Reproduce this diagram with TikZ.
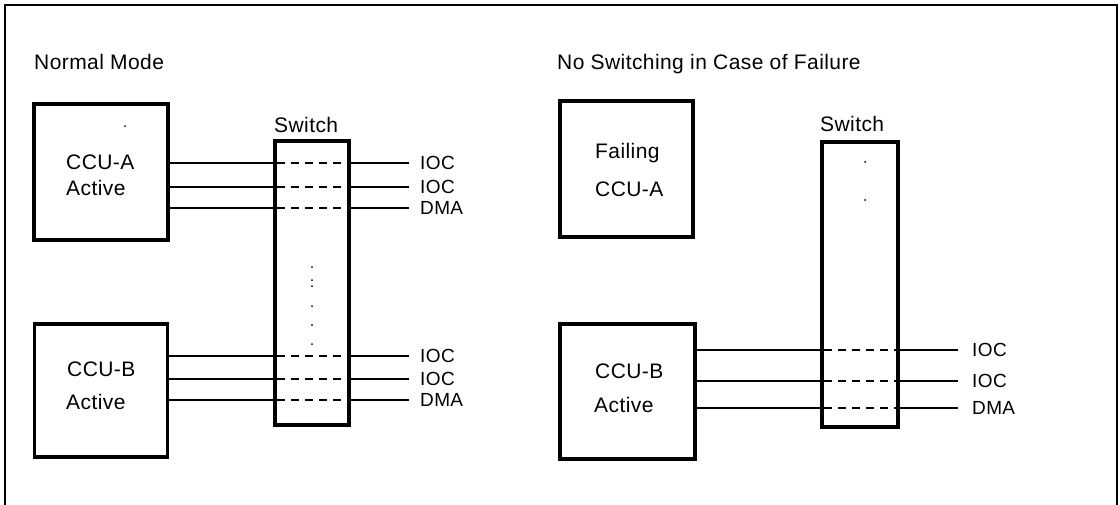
\documentclass[tikz,border=0pt]{standalone}
\usepackage{fontspec}
\setmainfont[LetterSpace=2]{Liberation Sans}
\begin{document}
\begin{tikzpicture}[x=1pt,y=-1pt,
  box/.style={draw, line width=3.6pt, inner sep=0pt},
  txt/.style={anchor=base west, inner sep=0pt, font=\fontsize{21}{25}\selectfont},
  lab/.style={anchor=west, inner sep=0pt, text height=13.6pt, text depth=0pt, font=\fontsize{19}{23}\selectfont},
  conn/.style={line width=1.8pt},
  dsh/.style={line width=1.8pt, dash pattern=on 8pt off 6pt, dash phase=-4pt},
  speck/.style={fill, circle, inner sep=0pt, minimum size=2pt}
]
\useasboundingbox (0,0) rectangle (1120,504);
% frame
\draw[line width=1.4pt] (5,510) -- (5,5) -- (1117,5) -- (1117,510);

% ---------- left: Normal Mode ----------
\node[txt] (t1) at (34,69.5) {Normal Mode};
\node[box, minimum width=134pt, minimum height=136pt] (ca) at (101,172) {};
\node[txt] (ca1) at (66,169.5) {CCU-A};
\node[txt] (ca2) at (66,195.5) {Active};
\node[box, minimum width=133pt, minimum height=133pt] (cb) at (101,390.5) {};
\node[txt] (cb1) at (67,376) {CCU-B};
\node[txt] (cb2) at (66,409) {Active};
\node[box, minimum width=74pt, minimum height=284pt] (sw) at (312,283) {};
\node[txt] (swl) at (274,132) {Switch};

\node[lab] (a1) at (420,163) {IOC};
\node[lab] (a2) at (420,187) {IOC};
\node[lab] (a3) at (420,208) {DMA};
\node[lab] (b1) at (420,356) {IOC};
\node[lab] (b2) at (420,379) {IOC};
\node[lab] (b3) at (420,400) {DMA};

\foreach \l/\s in {a1/ca,a2/ca,a3/ca,b1/cb,b2/cb,b3/cb}{
  \draw[conn] (\s.east |- \l.west) -- (sw.west |- \l.west);
  \draw[dsh] (sw.west |- \l.west) -- (sw.east |- \l.west);
  \draw[conn] (sw.east |- \l.west) -- ([xshift=-11pt]\l.west);
}
\foreach \yy in {267,280,286,306,325,344}{
  \node[speck] at (312,\yy) {};
}
\node[speck] at (125,126) {};

% ---------- right: No Switching ----------
\node[txt] (t2) at (557,69.5) {No Switching in Case of Failure};
\node[box, minimum width=133pt, minimum height=136pt] (fa) at (626.5,169) {};
\node[txt] (fa1) at (595,158.5) {Failing};
\node[txt] (fa2) at (595,196.5) {CCU-A};
\node[box, minimum width=135pt, minimum height=135pt] (rb) at (627.5,391.5) {};
\node[txt] (rb1) at (595,378) {CCU-B};
\node[txt] (rb2) at (594,412) {Active};
\node[box, minimum width=76pt, minimum height=285pt] (rsw) at (860,284.5) {};
\node[txt] (rswl) at (820,131.5) {Switch};

\node[lab] (c1) at (972,350) {IOC};
\node[lab] (c2) at (972,381) {IOC};
\node[lab] (c3) at (972,408) {DMA};

\foreach \l in {c1,c2,c3}{
  \draw[conn] (rb.east |- \l.west) -- (rsw.west |- \l.west);
  \draw[dsh] (rsw.west |- \l.west) -- (rsw.east |- \l.west);
  \draw[conn] (rsw.east |- \l.west) -- ([xshift=-14pt]\l.west);
}
\node[speck] at (865,162) {};
\node[speck] at (865,200) {};
\end{tikzpicture}
\end{document}
